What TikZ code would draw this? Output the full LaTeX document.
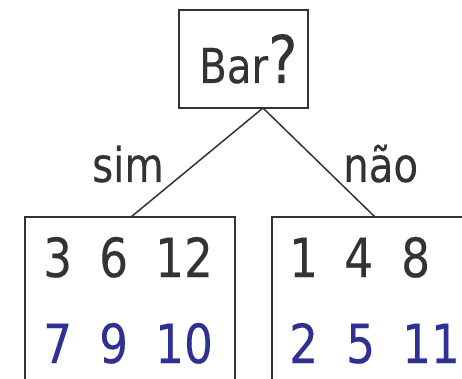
\documentclass[tikz,border=0pt]{standalone}
\usepackage{fontspec}
\setmainfont{DejaVu Sans}[FakeStretch=0.84,FakeBold=0.25]
\definecolor{ink}{HTML}{333333}
\definecolor{navy}{HTML}{2E3192}
\begin{document}
\begin{tikzpicture}[x=1pt,y=-1pt,
  box/.style={draw=ink,line width=1.5pt,inner sep=0pt},
  edge/.style={draw=ink,line width=1.5pt},
  num/.style={anchor=base west,inner sep=0pt,font=\fontsize{54}{54}\selectfont,text=ink},
  numb/.style={num,text=navy},
  lbl/.style={anchor=base west,inner sep=0pt,font=\fontsize{48}{48}\selectfont,text=ink}]
\useasboundingbox (0,0) rectangle (462,379);
% decision node and the two leaves
\node[box,minimum width=129pt,minimum height=98pt] (q) at (243.5,59) {};
\node[box,minimum width=210pt,minimum height=190pt] (lb) at (130,312) {};
\node[box,minimum width=210pt,minimum height=190pt] (rb) at (377,312) {};
\node[lbl] (qt) at (199,83) {Bar\fontsize{66}{66}\selectfont ?};
% branch end points
\coordinate (apex) at (263,108);
\coordinate (lend) at (131,217);
\coordinate (rend) at (375,217);
\draw[edge] (apex) -- (lend);
\draw[edge] (apex) -- (rend);
\node[lbl] (yes) at (92,182) {sim};
\node[lbl] (no) at (343,182) {não};
% left leaf
\node[num] (l1) at (43,277) {3};
\node[num] (l2) at (99,277) {6};
\node[num] (l3) at (155,277) {12};
\node[numb] (l4) at (43,363) {7};
\node[numb] (l5) at (99,363) {9};
\node[numb] (l6) at (155,363) {10};
% right leaf
\node[num] (r1) at (289,277) {1};
\node[num] (r2) at (344,277) {4};
\node[num] (r3) at (401,277) {8};
\node[numb] (r4) at (289,363) {2};
\node[numb] (r5) at (346,363) {5};
\node[numb] (r6) at (402,363) {11};
\end{tikzpicture}
\end{document}
